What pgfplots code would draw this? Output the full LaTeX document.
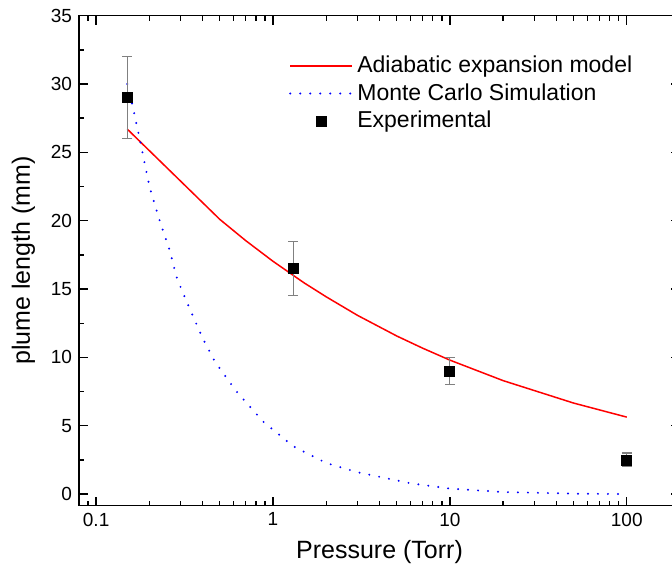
\documentclass[border=0pt]{standalone}
\usepackage{pgfplots}
\pgfplotsset{compat=1.18}
\usepackage{fontspec}
\setmainfont{Liberation Sans}

\pgfplotsset{
    longline/.style={legend image code/.code={\draw[##1] (0pt,0pt) -- (31pt,0pt);}},
    longmark/.style={legend image code/.code={%
        \draw[mark repeat=2, mark phase=2, ##1] plot coordinates {(0pt,0pt) (15.5pt,0pt) (31pt,0pt)};}},
}

\pgfplotstableread{
x      y
0.15   26.7
0.5    20.1
0.7    18.55
1      17.03
1.5    15.45
2      14.43
3      13.08
5      11.57
7      10.68
10     9.8
20     8.3
50     6.66
100    5.63
}\adiabatic

\pgfplotstableread{
x      y
0.15   30.0
0.154  29.5
0.178  25.75
0.2    22.5
0.23   19.9
0.258  18.0
0.287  15.75
0.322  14.2
0.4    11.4
0.469  9.7
0.622  7.5
0.88   5.3
1.3    3.5
2      2.27
3      1.6
5.93   0.8
10     0.4
20     0.15
50     0.03
100    0.0
}\montecarlo

\pgfplotstableread{
x      y      e
0.15   29     3
1.3    16.5   2
10     9      1
100    2.5    0.5
}\experiment

\begin{document}
\begin{tikzpicture}
\begin{axis}[
    scale only axis,
    width=300.5pt, height=245pt,
    xmode=log, xmin=0.08, xmax=200,
    ymin=-0.85, ymax=35,
    log ticks with fixed point,
    ytick={0,5,...,35}, minor y tick num=1,
    /pgf/number format/assume math mode=true,
    tick label style={font=\fontsize{9.5}{11}\selectfont},
    label style={font=\fontsize{12.5}{15}\selectfont},
    xlabel={Pressure (Torr)}, ylabel={plume length (mm)},
    ylabel style={yshift=1pt},
    axis line style={line width=0.8pt},
    every tick/.style={black, line width=0.7pt},
    major tick length=4.5pt, minor tick length=2.5pt,
    legend style={draw=none, fill=none, at={(0.339,0.935)}, anchor=north west,
        font=\fontsize{11.5}{14}\selectfont, row sep=0pt},
    legend cell align=left,
]
\addplot[red, line width=0.75pt, longline]
    table[x=x, y=y] {\adiabatic};
\addlegendentry{Adiabatic expansion model}
\addplot[blue, line width=1.1pt, line cap=round, dash pattern=on 0pt off 5pt, longline]
    table[x=x, y=y] {\montecarlo};
\addlegendentry{Monte Carlo Simulation}
\addplot[only marks, mark=square*, mark size=2.5pt, black, longmark,
    error bars/.cd, y dir=both, y explicit,
    error bar style={gray, line width=0.6pt},
    error mark options={gray, rotate=90, mark size=2.5pt, line width=0.6pt}]
    table[x=x, y=y, y error=e] {\experiment};
\addlegendentry{Experimental}
\end{axis}
\pgfresetboundingbox
\path[use as bounding box] ([shift={(-39.5pt,-34.5pt)}]current axis.south west)
    rectangle ([shift={(296.5pt,7.85pt)}]current axis.north west);
\end{tikzpicture}
\end{document}
